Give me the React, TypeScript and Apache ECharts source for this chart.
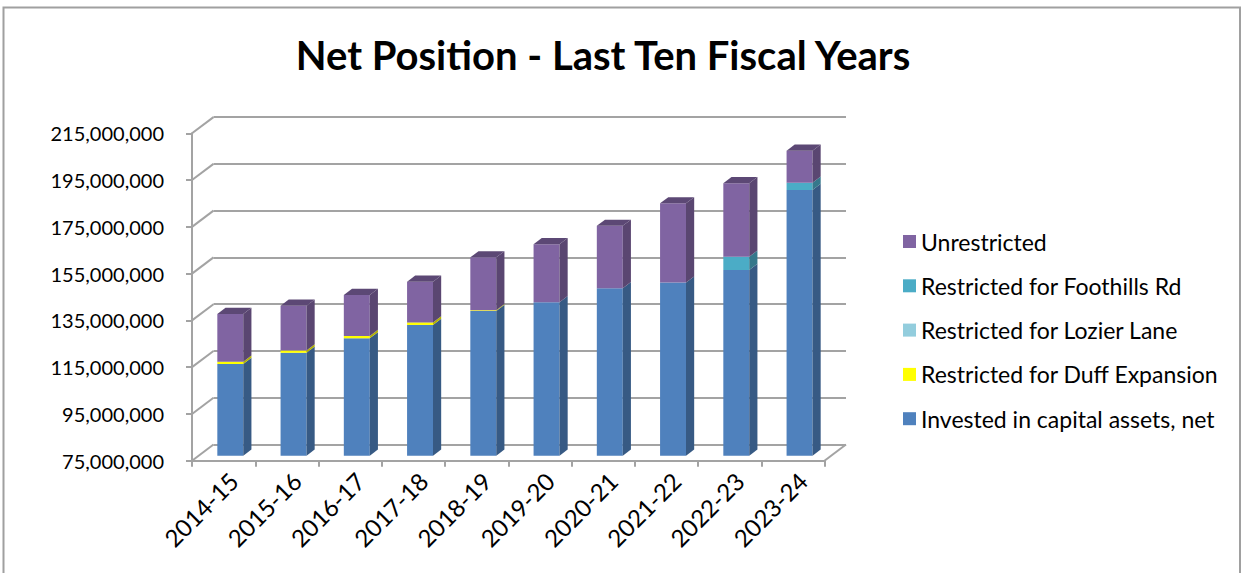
import React, { useEffect, useRef } from "react";
import * as echarts from "echarts";

// ---- data (US dollars) ----
const categories = ["2014-15", "2015-16", "2016-17", "2017-18", "2018-19", "2019-20", "2020-21", "2021-22", "2022-23", "2023-24"];
const invested = [114.2e6, 119.0e6, 125.2e6, 130.9e6, 136.9e6, 140.6e6, 146.6e6, 149.0e6, 154.4e6, 188.6e6];
const duff = [1.0e6, 1.0e6, 1.0e6, 1.1e6, 0.3e6, 0, 0, 0, 0, 0];
const lozier = [0, 0, 0, 0, 0, 0, 0, 0, 0, 0];
const foothills = [0, 0, 0, 0, 0, 0, 0, 0, 5.7e6, 3.1e6];
const unrestricted = [20.4e6, 19.1e6, 17.5e6, 17.4e6, 22.6e6, 24.8e6, 26.7e6, 33.9e6, 31.4e6, 13.7e6];
const yTicks = [75e6, 95e6, 115e6, 135e6, 155e6, 175e6, 195e6, 215e6];

const layerNames = [
  "Invested in capital assets, net",
  "Restricted for Duff Expansion",
  "Restricted for Lozier Lane",
  "Restricted for Foothills Rd",
  "Unrestricted",
];
const layerValues = [invested, duff, lozier, foothills, unrestricted];
const layerColors = ["#4F81BD", "#FFFF00", "#93CDDD", "#4BACC6", "#8064A2"];

const Y_MIN = 75e6;
const Y_MAX = 215e6;
const Y_STEP = 20e6;
// 3D wall depth in pixels
const DX = 21.5;
const DY = -16.2;
const BAR_FRONT = 0.31;
const BAR_DEPTH = 0.38;
const BAR_W = 0.41;
const LINE = "#a3a3a3";
const FONT = "Lato";
const LABEL_SHIFT = 10;

function shade(hex: string, k: number) {
  const n = parseInt(hex.slice(1), 16);
  const r = Math.round(((n >> 16) & 255) * k);
  const g = Math.round(((n >> 8) & 255) * k);
  const b = Math.round((n & 255) * k);
  return `rgb(${r},${g},${b})`;
}

function fmt(v: number) {
  return String(Math.round(v)).replace(/\B(?=(\d{3})+(?!\d))/g, ",");
}

function barRender(color: string) {
  return (params: any, api: any) => {
    const i = api.value(0);
    const b = Math.max(api.value(1), Y_MIN);
    const t = api.value(2);
    const isTop = api.value(3);
    if (!(t > b)) return null;
    const cw = api.size([1, 0])[0];
    const pb = api.coord([i, b]);
    const pt = api.coord([i, t]);
    const ox = BAR_FRONT * DX;
    const oy = BAR_FRONT * DY;
    const w = cw * BAR_W;
    const x0 = pb[0] + ox - w / 2;
    const x1 = x0 + w;
    const yb = pb[1] + oy;
    const yt = pt[1] + oy;
    const sdx = BAR_DEPTH * DX;
    const sdy = BAR_DEPTH * DY;
    const children: any[] = [
      { type: "rect", shape: { x: x0, y: yt, width: w, height: yb - yt }, style: { fill: color } },
      {
        type: "polygon",
        shape: { points: [[x1, yt], [x1 + sdx, yt + sdy], [x1 + sdx, yb + sdy], [x1, yb]] },
        style: { fill: shade(color, 0.7) },
      },
    ];
    if (isTop) {
      children.push({
        type: "polygon",
        shape: { points: [[x0, yt], [x0 + sdx, yt + sdy], [x1 + sdx, yt + sdy], [x1, yt]] },
        style: { fill: shade(color, 0.72) },
      });
    }
    return { type: "group", children };
  };
}

function wallRender(params: any, api: any) {
  const v = api.value(0);
  const cw = api.size([1, 0])[0];
  const p = api.coord([0, v]);
  const xl = p[0] - cw / 2;
  const children: any[] = [
    { type: "line", shape: { x1: xl, y1: p[1], x2: xl + DX, y2: p[1] + DY }, style: { stroke: LINE, lineWidth: 2 } },
  ];
  if (v === Y_MIN) {
    const pr = api.coord([categories.length - 1, v]);
    const xr = pr[0] + cw / 2;
    children.push({ type: "line", shape: { x1: xr, y1: p[1], x2: xr + DX, y2: p[1] + DY }, style: { stroke: LINE, lineWidth: 2 } });
  }
  return { type: "group", children };
}

export default function App() {
  const ref = useRef<HTMLDivElement>(null);
  useEffect(() => {
    if (!ref.current) return;
    const chart = echarts.init(ref.current, null, { renderer: "svg" });

    const cum = categories.map(() => 0);
    const topLayer = categories.map((_, i) => {
      let top = 0;
      layerValues.forEach((arr, k) => {
        if (arr[i] > 0) top = k;
      });
      return top;
    });
    const barSeries = layerValues.map((arr, k) => {
      const data = categories.map((_, i) => {
        const base = cum[i];
        cum[i] += arr[i];
        return [i, base, cum[i], topLayer[i] === k ? 1 : 0];
      });
      return {
        type: "custom",
        name: layerNames[k],
        xAxisIndex: 0,
        yAxisIndex: 0,
        renderItem: barRender(layerColors[k]),
        itemStyle: { color: layerColors[k] },
        encode: { x: 0, y: [1, 2] },
        data,
        z: 3,
      };
    });

    const gFront = { left: 192, right: 1241 - 824.5, top: 133.3, bottom: 573 - 460.7 };

    const option: any = {
      animation: false,
      backgroundColor: "#ffffff",
      color: layerColors,
      textStyle: { fontFamily: FONT },
      title: {
        text: "Net Position - Last Ten Fiscal Years",
        left: 598,
        textAlign: "center",
        top: 30,
        textStyle: { fontFamily: FONT, fontSize: 40, fontWeight: "bold", color: "#000" },
      },
      legend: {
        orient: "vertical",
        left: 898,
        top: 225,
        icon: "rect",
        itemWidth: 13,
        itemHeight: 13,
        itemGap: 21.3,
        data: [...layerNames].reverse(),
        textStyle: { fontFamily: FONT, fontSize: 23, color: "#000", lineHeight: 23 },
      },
      grid: [
        { ...gFront, containLabel: false },
        { left: gFront.left + DX, right: gFront.right - DX, top: gFront.top + DY, bottom: gFront.bottom - DY, containLabel: false },
        { left: gFront.left + LABEL_SHIFT, right: gFront.right - LABEL_SHIFT, top: gFront.top, bottom: gFront.bottom, containLabel: false },
      ],
      xAxis: [
        {
          type: "category",
          gridIndex: 0,
          data: categories,
          boundaryGap: true,
          axisLine: { lineStyle: { color: LINE, width: 2 } },
          axisTick: { show: true, length: 6, lineStyle: { color: LINE, width: 2 } },
          axisLabel: { show: false },
        },
        {
          type: "category",
          gridIndex: 1,
          data: categories,
          show: false,
        },
        {
          type: "category",
          gridIndex: 2,
          data: categories,
          axisLine: { show: false },
          axisTick: { show: false },
          axisLabel: { rotate: 45, fontFamily: FONT, fontSize: 24, color: "#000", margin: 16, interval: 0 },
        },
      ],
      yAxis: [
        {
          type: "value",
          gridIndex: 0,
          min: Y_MIN,
          max: Y_MAX,
          interval: Y_STEP,
          axisLine: { show: true, lineStyle: { color: LINE, width: 2 } },
          axisTick: { show: true, length: 6, lineStyle: { color: LINE, width: 2 } },
          splitLine: { show: false },
          axisLabel: { formatter: (v: number) => fmt(v), fontFamily: FONT, fontSize: 20, color: "#000", margin: 28 },
        },
        {
          type: "value",
          gridIndex: 1,
          min: Y_MIN,
          max: Y_MAX,
          interval: Y_STEP,
          axisLine: { show: false },
          axisTick: { show: false },
          axisLabel: { show: false },
          splitLine: { show: true, lineStyle: { color: LINE, width: 2 } },
        },
        {
          type: "value",
          gridIndex: 2,
          min: Y_MIN,
          max: Y_MAX,
          show: false,
          splitLine: { show: false },
        },
      ],
      graphic: [
        {
          type: "rect",
          shape: { x: 3.5, y: 7.5, width: 1236.5, height: 620 },
          style: { fill: "none", stroke: "#a0a0a0", lineWidth: 2 },
          silent: true,
        },
      ],
      series: [
        {
          type: "custom",
          name: "walls",
          xAxisIndex: 0,
          yAxisIndex: 0,
          renderItem: wallRender,
          encode: { y: 0 },
          data: yTicks.map((v) => [v]),
          z: 1,
          silent: true,
        },
        ...barSeries,
      ],
    };
    chart.setOption(option);
    return () => chart.dispose();
  }, []);
  return <div ref={ref} style={{ position: "fixed", left: 0, top: 0, width: 1241, height: 573 }} />;
}
